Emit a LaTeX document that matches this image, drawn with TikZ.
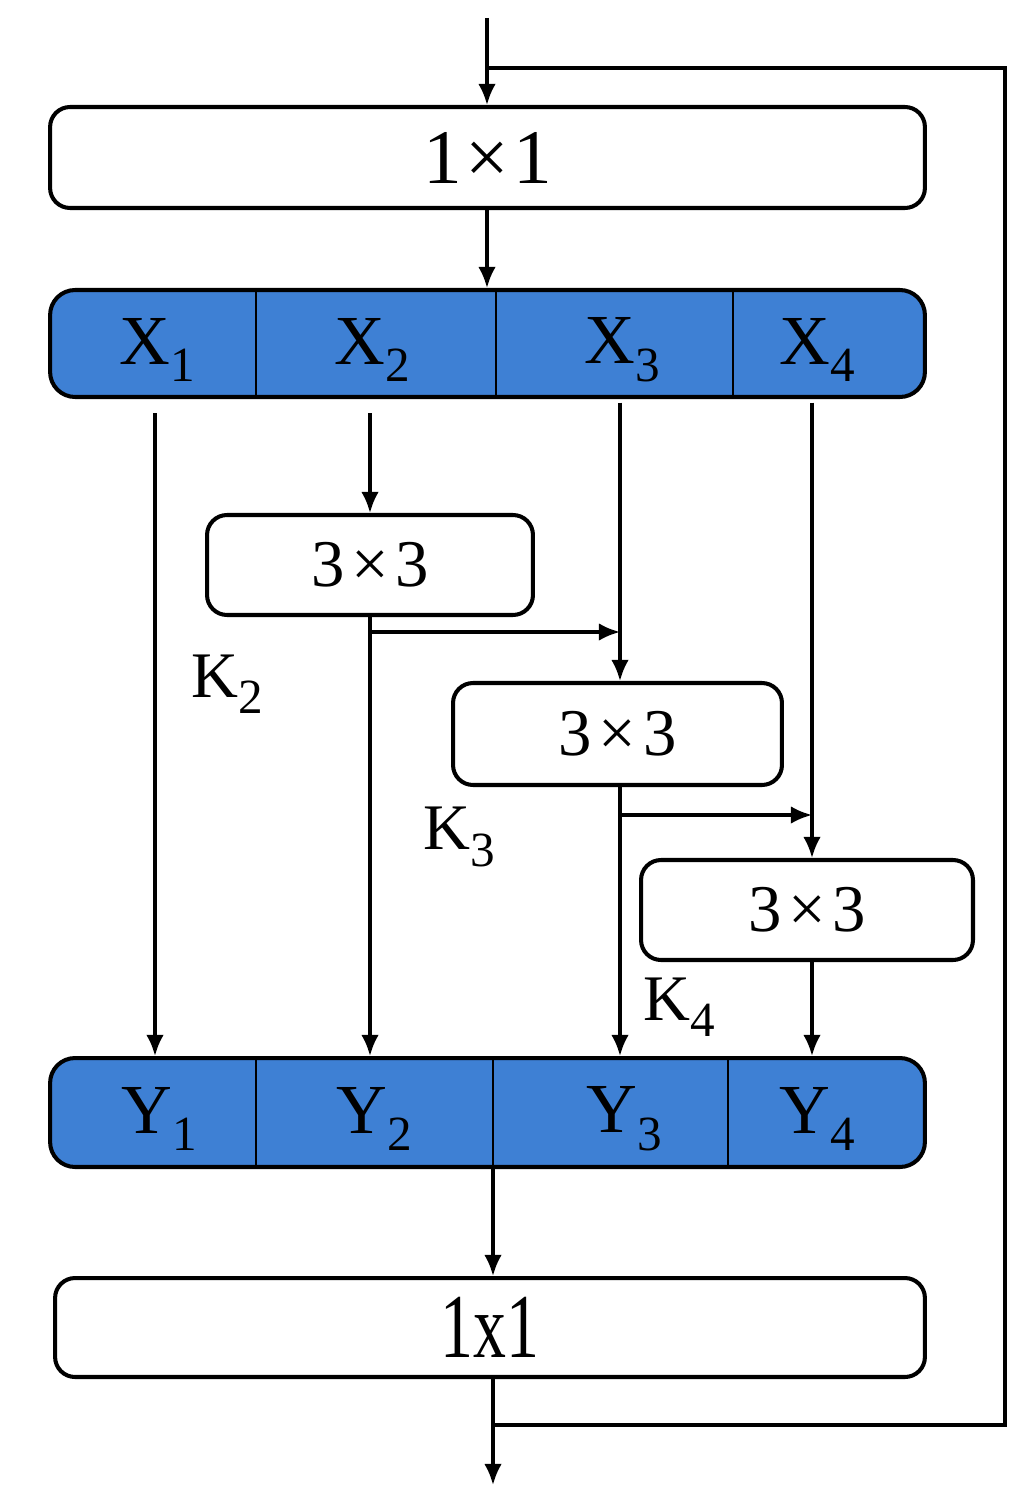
\documentclass[tikz,border=0pt]{standalone}
\usepackage{fontspec}
\setmainfont{Liberation Serif}
\usetikzlibrary{arrows.meta}
\definecolor{barblue}{RGB}{62,128,212}
\newcommand{\lowsub}[1]{\raisebox{-0.55ex}{\fontsize{28}{30}\selectfont #1}}
\begin{document}
\begin{tikzpicture}[x=0.02cm,y=-0.02cm,
  box/.style={draw,line width=2.3pt,rounded corners=0.4cm,fill=white,inner sep=0pt},
  bar/.style={draw,line width=2.3pt,rounded corners=0.5cm,fill=barblue,inner sep=0pt,minimum width=17.5cm},
  arr/.style={line width=1.9pt,-{Latex[length=12pt,width=10pt]}},
  ln/.style={line width=1.9pt},
  div/.style={line width=1.6pt},
  lbl/.style={font=\fontsize{40}{42}\selectfont,inner sep=0pt},
  klbl/.style={font=\fontsize{37}{39}\selectfont,inner sep=0pt},
  conv/.style={font=\fontsize{38}{40}\selectfont}]
\useasboundingbox (0,0) rectangle (1033,1507);
% nodes
\node[box,minimum width=17.5cm,minimum height=2.02cm,font=\fontsize{44}{46}\selectfont] (top) at (487.5,157.5) {1\kern0.05em×\kern0.05em1};
\node[bar,minimum height=2.14cm] (xbar) at (487.5,343.5) {};
\node[box,minimum width=6.52cm,minimum height=2cm,conv] (c2) at (370,565) {3\kern0.1em×\kern0.1em3};
\node[box,minimum width=6.58cm,minimum height=2.04cm,conv] (c3) at (617.5,734) {3\kern0.1em×\kern0.1em3};
\node[box,minimum width=6.64cm,minimum height=2cm,conv] (c4) at (807,910) {3\kern0.1em×\kern0.1em3};
\node[bar,minimum height=2.18cm] (ybar) at (487.5,1112.5) {};
\node[box,minimum width=17.4cm,minimum height=1.98cm,font=\fontsize{52}{54}\selectfont] (bot) at (490,1327.5) {\scalebox{0.72}[1]{1x1}};
% dividers
\foreach \x in {256,496,733} \draw[div] (\x,290) -- (\x,397);
\foreach \x in {256,493,728} \draw[div] (\x,1058) -- (\x,1167);
% labels
\node[lbl] (x1) at (157,350) {X\lowsub{1}};
\node[lbl] (x2) at (372,350) {X\lowsub{2}};
\node[lbl] (x3) at (622,350) {X\lowsub{3}};
\node[lbl] (x4) at (817,350) {X\lowsub{4}};
\node[lbl] (y1) at (159,1119) {Y\lowsub{1}};
\node[lbl] (y2) at (374,1119) {Y\lowsub{2}};
\node[lbl] (y3) at (624,1119) {Y\lowsub{3}};
\node[lbl] (y4) at (817,1119) {Y\lowsub{4}};
\node[klbl] (k2) at (227,684) {K\lowsub{2}};
\node[klbl] (k3) at (459,837) {K\lowsub{3}};
\node[klbl] (k4) at (679,1007) {K\lowsub{4}};
% column coordinates
\coordinate (col1) at (155,0);
\coordinate (col2) at (370,0);
\coordinate (col3) at (620,0);
\coordinate (col4) at (812,0);
\coordinate (in) at (487,18);
\coordinate (out) at (493,1485);
\coordinate (fb1) at (1005,68);
\coordinate (fb2) at (1005,1425);
% connectors
\draw[arr] (in) -- (top.north -| in);
\draw[ln] (in |- fb1) -- (fb1) -- (fb2) -- (fb2 -| out);
\draw[arr] (top.south -| in) -- (xbar.north -| in);
\draw[arr,shorten <=8pt] (xbar.south -| col1) -- (ybar.north -| col1);
\draw[arr,shorten <=8pt] (xbar.south -| col2) -- (c2.north -| col2);
\draw[arr] (c2.south -| col2) -- (ybar.north -| col2);
\draw[arr,shorten <=2pt] (xbar.south -| col3) -- (c3.north -| col3);
\draw[arr] (c3.south -| col3) -- (ybar.north -| col3);
\draw[arr,shorten <=2pt] (xbar.south -| col4) -- (c4.north -| col4);
\draw[arr] (c4.south -| col4) -- (ybar.north -| col4);
\coordinate (h1) at (370,632);
\coordinate (h2) at (620,815);
\draw[arr] (h1) -- (h1 -| col3);
\draw[arr] (h2) -- (h2 -| col4);
\draw[arr] (ybar.south -| out) -- (bot.north -| out);
\draw[arr] (bot.south -| out) -- (out);
\end{tikzpicture}
\end{document}
